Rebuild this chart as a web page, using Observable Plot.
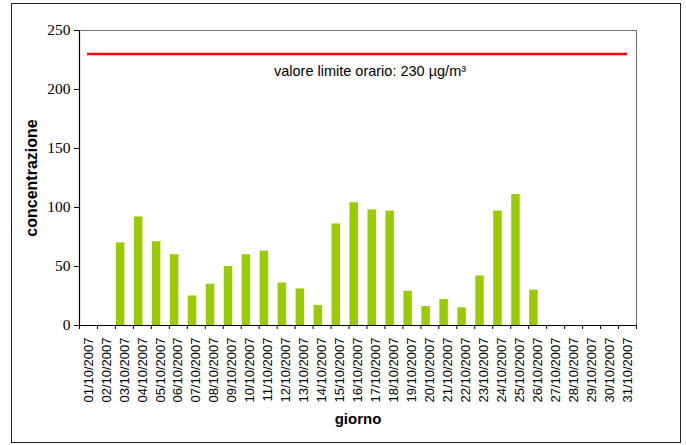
<!DOCTYPE html>
<html>
<head>
<meta charset="utf-8">
<script src="https://cdn.jsdelivr.net/npm/d3@7"></script>
<script src="https://cdn.jsdelivr.net/npm/@observablehq/plot@0.6"></script>
<style>
  html, body { margin: 0; padding: 0; background: #fff; }
  #wrap { position: relative; width: 686px; height: 445px; }
  #border { position: absolute; left: 11px; top: 3px; width: 670px; height: 440px; border: 1px solid #222; box-sizing: border-box; pointer-events: none; }
</style>
</head>
<body>
<div id="wrap"><div id="border"></div></div>
<script>
const days = ["01/10/2007","02/10/2007","03/10/2007","04/10/2007","05/10/2007","06/10/2007","07/10/2007","08/10/2007","09/10/2007","10/10/2007","11/10/2007","12/10/2007","13/10/2007","14/10/2007","15/10/2007","16/10/2007","17/10/2007","18/10/2007","19/10/2007","20/10/2007","21/10/2007","22/10/2007","23/10/2007","24/10/2007","25/10/2007","26/10/2007","27/10/2007","28/10/2007","29/10/2007","30/10/2007","31/10/2007"];
const values = [null,null,70,92,71,60,25,35,50,60,63,36,31,17,86,104,98,97,29,16,22,15,42,97,111,30,null,null,null,null,null];
const yTicks = [0,50,100,150,200,250];
const limit = 230;
const limitLabel = "valore limite orario: 230 µg/m³";
const yLabel = "concentrazione";
const xLabel = "giorno";

const data = days.map((d, i) => ({day: d, value: values[i]}));
const W = 686, H = 445, mL = 79, mR = 50, mT = 30, mB = 120;
const bw = (W - mL - mR) / days.length;
const sans = "Liberation Sans, Arial, sans-serif";
const serif = "Liberation Serif, Times New Roman, serif";

const chart = Plot.plot({
  width: W, height: H,
  marginLeft: mL, marginRight: mR, marginTop: mT, marginBottom: mB,
  style: {background: "#fff", color: "#000", fontFamily: sans},
  x: {type: "band", domain: days, padding: 0},
  y: {domain: [0, 250], axis: null},
  marks: [
    Plot.frame({stroke: "#777", strokeWidth: 1}),
    Plot.barY(data.filter(d => d.value != null), {x: "day", y: "value", fill: "#99cc00", insetLeft: 1, insetRight: 8.5}),
    Plot.ruleY([limit], {stroke: "#ff0000", strokeWidth: 2.5, insetLeft: 8, insetRight: 9}),
    Plot.text([limitLabel], {frameAnchor: "top", y: [limit], dy: 12, dx: 12, fontSize: 14.5, fontFamily: sans, fill: "#000"}),
    // left axis line
    Plot.ruleX([days[0]], {x: d => d, dx: -bw / 2, stroke: "#000", strokeWidth: 1.2}),
    // bottom axis line
    Plot.ruleY([0], {stroke: "#000", strokeWidth: 1.2}),
    Plot.axisY({ticks: yTicks, tickSize: 5, tickPadding: 4, fontSize: 15.5, fontFamily: serif, label: null, stroke: "#000", ariaLabel: "yaxis"}),
    Plot.axisX({tickRotate: -90, tickSize: 0, tickPadding: 12, fontSize: 13, fontFamily: sans, label: null, letterSpacing: 0.3}),
    // boundary ticks below the x axis
    Plot.ruleX(days, {x: d => d, y1: 0, y2: 0, insetBottom: -4, dx: -bw / 2, stroke: "#000"}),
    Plot.ruleX([days[days.length - 1]], {x: d => d, y1: 0, y2: 0, insetBottom: -4, dx: bw / 2, stroke: "#000"}),
    Plot.text([yLabel], {frameAnchor: "left", textAnchor: "middle", rotate: -90, dx: -48, fontSize: 16, fontWeight: "bold", fontFamily: sans, fill: "#000"}),
    Plot.text([xLabel], {frameAnchor: "bottom", dy: 98, fontSize: 15, fontWeight: "bold", fontFamily: sans, fill: "#000"})
  ]
});

d3.select(chart).selectAll("g[aria-label='y-axis tick label'] text, g[aria-label='y-axis tick label']")
  .attr("font-family", serif).style("font-family", serif);
document.getElementById("wrap").prepend(chart);
</script>
</body>
</html>
